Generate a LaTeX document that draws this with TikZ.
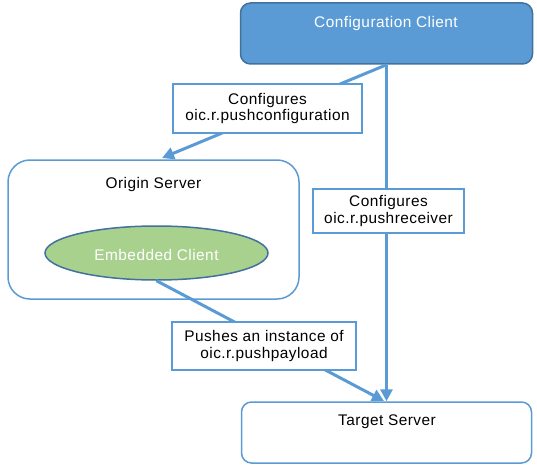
\documentclass[tikz,border=0pt]{standalone}
\usepackage{fontspec}
\setmainfont{Liberation Sans}[LetterSpace=3]
\usetikzlibrary{arrows.meta,shapes.geometric}
\definecolor{lineblue}{HTML}{5B9BD5}
\definecolor{darkblue}{HTML}{41719C}
\definecolor{greenfill}{HTML}{A9D18E}
\tikzset{
  txt/.style={font=\fontsize{15.4}{16.5}\selectfont, align=center, inner sep=0pt},
  roundbox/.style={draw=lineblue, line width=1.5pt, fill=white, rounded corners=10pt, minimum width=290pt, minimum height=61pt},
  labelbox/.style={draw=lineblue, line width=2pt, fill=white, txt, inner sep=0pt},
  conn/.style={draw=lineblue, line width=3pt, -{Triangle[length=12pt,width=12pt]}},
}
\begin{document}
\begin{tikzpicture}[x=1pt,y=-1pt]
\useasboundingbox (0,0) rectangle (537,468);
% main nodes
\node[roundbox, draw=darkblue, fill=lineblue, minimum width=292pt] (cfg) at (386.5,33.5) {};
\node[txt, text=white] (cfgt) at (386,24) {Configuration Client};
\node[roundbox, rounded corners=22pt, minimum width=291pt, minimum height=139pt] (orig) at (153.5,229.5) {};
\node[txt] (origt) at (153.5,185) {Origin Server};
\node[ellipse, draw=darkblue, line width=1.5pt, fill=greenfill, minimum width=223pt, minimum height=54pt, inner sep=0pt] (emb) at (156.5,253) {};
\node[txt, text=white] (embt) at (156.5,254.5) {Embedded Client};
\node[roundbox] (tgt) at (386.5,432.5) {};
\node[txt] (tgtt) at (387,422) {Target Server};
% connectors
\coordinate (t1) at (162,158);
\coordinate (t3) at (384,401);
\draw[conn] (cfg.south) -- (t1);
\draw[conn] (cfg.south) -- (tgt.north);
\draw[conn] (emb.south) -- (t3);
% labels
\node[labelbox, minimum width=189pt, minimum height=49pt] (l1) at (267.5,108.5) {Configures\\oic.r.pushconfiguration};
\node[labelbox, minimum width=151pt, minimum height=44pt] (l2) at (388.5,211) {Configures\\oic.r.pushreceiver};
\node[labelbox, minimum width=184pt, minimum height=48pt] (l3) at (264,346) {Pushes an instance of\\oic.r.pushpayload};
\end{tikzpicture}
\end{document}
